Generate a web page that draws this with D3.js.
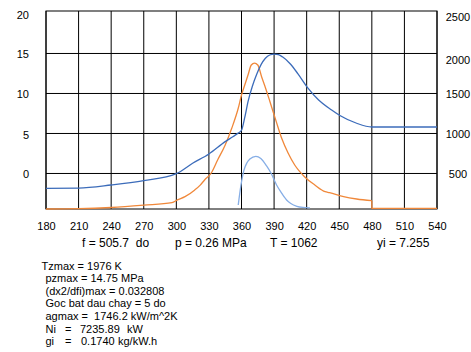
<!DOCTYPE html>
<html lang="vi">
  <head>
    <meta charset="utf-8">
    <title>chart</title>
    <script type="text/javascript" src="https://cdn.jsdelivr.net/npm/d3@7/dist/d3.min.js"></script>
    <style>
    body{margin:0;background:#fff;}
    svg{display:block;}
    text{font-family:"Liberation Sans",Arial,sans-serif;fill:#000;}
    .axis text{font-size:11px;}
    .axis path{display:none;}
    .grid line{stroke:#000;stroke-width:1px;}
    .info{font-size:12px;}
    .res{font-size:11px;}
    </style>
  </head>
  <body>
    <svg></svg>
    <script type="text/javascript">
      // chart values
      var angleTicks=[180,210,240,270,300,330,360,390,420,450,480,510,540];
      var leftTicks=[0,5,10,15,20];
      var rightTicks=[500,1000,1500,2000,2500];

      // dark blue, right axis (K)
      var tempAngle=[180,210,240,270,300,315,330,345,352,357,360,363,366,370,374,378,382,386,390,394,398,405,412,421,431,443,451,466,480,540];
      var tempK=[315,318,356,410,498,628,744,898,960,1005,1040,1200,1398,1590,1740,1860,1940,1981,1992,1985,1955,1869,1745,1570,1419,1294,1222,1128,1081,1081];

      // orange, left axis
      var presAngle=[180,210,240,270,296,301,308,317,322,326,332,338,345,351,357,360,363,366,369,372,375,378.5,381.5,386,392,397,403,409,418,427.5,437,441,454,466,480];
      var presVal=[-4.44,-4.4,-4.25,-3.96,-3.65,-3.31,-2.9,-2.06,-1.45,-0.81,0.03,1.69,3.56,5.65,8.15,9.81,11.06,12.31,13.56,13.8,13.56,12.1,10.94,9.06,6.48,4.4,2.53,1.06,-0.4,-1.44,-2.28,-2.4,-2.9,-3.19,-3.4];
      var presTailAngle=[480,480,540];
      var presTailVal=[-3.4,-4.35,-4.35];

      // light blue, left axis
      var heatAngle=[357,359.4,362.2,364.9,367.7,373.2,377.8,383.1,387.1,392.3,396.2,401.5,405.4,411,416.5,423];
      var heatVal=[-3.94,-1.56,0.38,1.31,1.81,2.15,1.88,0.94,0.06,-1.44,-2.31,-3.31,-3.75,-4.1,-4.25,-4.31];

      var infoText=["f = 505.7  do","p = 0.26 MPa","T = 1062","yi = 7.255"];
      var resultText=["Tzmax = 1976 K","pzmax = 14.75 MPa","(dx2/dfi)max = 0.032808","Goc bat dau chay = 5 do","agmax =  1746.2 kW/m^2K"];
      var tableLabel=["Ni","gi"];
      var tableValue=["7235.89","0.1740"];
      var tableUnit=["kW","kg/kW.h"];

      var width=471;
      var height=352;
      var pl=46,pr=437,pt=11,pb=209;
      var rowY=269.5,rowStep=12.6;

      var svg=d3.select("svg")
                .attr("width",width)
                .attr("height",height);

      var xscale=d3.scaleLinear().domain([180,540]).range([pl,pr]);
      var yscale=d3.scaleLinear().domain([-4.44,20.31]).range([pb,pt]);
      var y2scale=d3.scaleLinear().domain([56,2531]).range([pb,pt]);

      // grid
      var grid=svg.append("g").attr("class","grid");
      grid.selectAll("line.v")
          .data(angleTicks)
          .enter()
          .append("line")
          .attr("class","v")
          .attr("x1",function(d){return xscale(d);})
          .attr("x2",function(d){return xscale(d);})
          .attr("y1",pt)
          .attr("y2",pb);
      grid.selectAll("line.h")
          .data(leftTicks.slice(0,4))
          .enter()
          .append("line")
          .attr("class","h")
          .attr("x1",pl)
          .attr("x2",pr)
          .attr("y1",function(d){return yscale(d);})
          .attr("y2",function(d){return yscale(d);});
      svg.append("rect")
         .attr("x",pl)
         .attr("y",pt)
         .attr("width",pr-pl)
         .attr("height",pb-pt)
         .attr("fill","none")
         .attr("stroke","#000");

      // curves
      function pts(a,v){
        return a.map(function(d,i){return [d,v[i]];});
      }
      var lineL=d3.line()
                  .x(function(d){return xscale(d[0]);})
                  .y(function(d){return yscale(d[1]);})
                  .curve(d3.curveMonotoneX);
      var lineR=d3.line()
                  .x(function(d){return xscale(d[0]);})
                  .y(function(d){return y2scale(d[1]);})
                  .curve(d3.curveMonotoneX);
      var lineLin=d3.line()
                  .x(function(d){return xscale(d[0]);})
                  .y(function(d){return yscale(d[1]);});

      svg.append("path")
         .attr("d",lineL(pts(presAngle,presVal)))
         .attr("fill","none").attr("stroke","#f0883a").attr("stroke-width",1.3);
      svg.append("path")
         .attr("d",lineLin(pts(presTailAngle,presTailVal)))
         .attr("fill","none").attr("stroke","#f0883a").attr("stroke-width",1.3);
      svg.append("path")
         .attr("d",lineL(pts(heatAngle,heatVal)))
         .attr("fill","none").attr("stroke","#86aee6").attr("stroke-width",1.3);
      svg.append("path")
         .attr("d",lineR(pts(tempAngle,tempK)))
         .attr("fill","none").attr("stroke","#3c6cba").attr("stroke-width",1.3);

      // axes
      svg.append("g")
         .attr("class","axis")
         .attr("transform","translate(0,"+pb+")")
         .call(d3.axisBottom(xscale).tickValues(angleTicks).tickSize(0).tickPadding(13));
      svg.append("g")
         .attr("class","axis")
         .attr("transform","translate("+pl+",0)")
         .call(d3.axisLeft(yscale).tickValues(leftTicks).tickSize(0).tickPadding(17))
         .selectAll("text")
         .attr("dy",function(d){return d==20||d==5?"0.5em":"0.32em";});
      svg.append("g")
         .attr("class","axis")
         .attr("transform","translate("+pr+",0)")
         .call(d3.axisRight(y2scale).tickValues(rightTicks).tickFormat(d3.format("d")).tickSize(0).tickPadding(21))
         .selectAll("text")
         .attr("text-anchor","middle")
         .attr("dy",function(d){return d==2000?"0.9em":d==2500?"0.6em":"0.32em";});

      // info line under the axis
      var infoX=[82,175,270,377];
      svg.selectAll("text.info")
         .data(infoText)
         .enter()
         .append("text")
         .attr("class","info")
         .attr("x",function(d,i){return infoX[i];})
         .attr("y",247)
         .style("white-space","pre")
         .text(function(d){return d;});

      // results block
      svg.selectAll("text.res")
         .data(resultText)
         .enter()
         .append("text")
         .attr("class","res")
         .attr("x",function(d,i){return i==0?41.5:45.5;})
         .attr("y",function(d,i){return rowY+i*rowStep;})
         .style("white-space","pre")
         .text(function(d){return d;});
      var rows=svg.selectAll("g.row")
                  .data(tableLabel)
                  .enter()
                  .append("g")
                  .attr("class","row res")
                  .attr("transform",function(d,i){return "translate(0,"+(rowY+(5+i)*rowStep)+")";});
      rows.append("text").attr("x",45.5).text(function(d){return d;});
      rows.append("text").attr("x",65).text("=");
      rows.append("text").attr("x",function(d,i){return i==0?80:81;}).text(function(d,i){return tableValue[i];});
      rows.append("text").attr("x",function(d,i){return i==0?127:118;}).text(function(d,i){return tableUnit[i];});
    </script>
  </body>
</html>
